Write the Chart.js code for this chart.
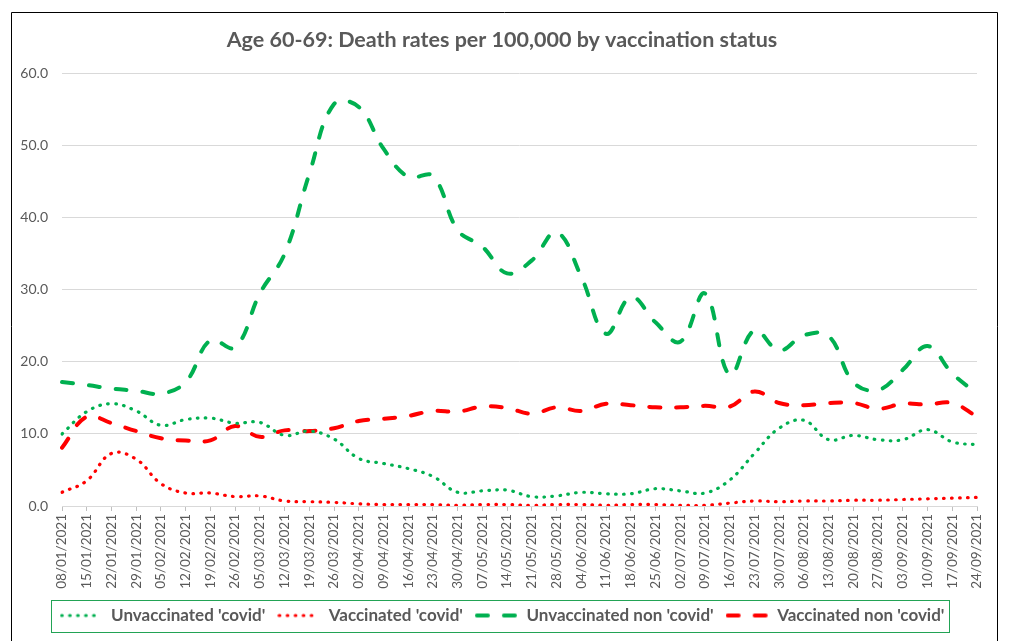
<!DOCTYPE html>
<html>
<head>
<meta charset="utf-8">
<script src="https://cdn.jsdelivr.net/npm/chart.js@4/dist/chart.umd.min.js"></script>
<style>
  html, body { margin: 0; padding: 0; background: #fff; }
  #wrap { width: 1012px; height: 641px; }
</style>
</head>
<body>
<div id="wrap"><canvas id="chart" width="1012" height="641"></canvas></div>
<script>
const weeks = ['08/01/2021', '15/01/2021', '22/01/2021', '29/01/2021', '05/02/2021', '12/02/2021', '19/02/2021', '26/02/2021',
  '05/03/2021', '12/03/2021', '19/03/2021', '26/03/2021', '02/04/2021', '09/04/2021', '16/04/2021', '23/04/2021', '30/04/2021',
  '07/05/2021', '14/05/2021', '21/05/2021', '28/05/2021', '04/06/2021', '11/06/2021', '18/06/2021', '25/06/2021', '02/07/2021',
  '09/07/2021', '16/07/2021', '23/07/2021', '30/07/2021', '06/08/2021', '13/08/2021', '20/08/2021', '27/08/2021', '03/09/2021',
  '10/09/2021', '17/09/2021', '24/09/2021'];

const unvaxCovid = [10.0, 13.1, 14.2, 13.2, 11.2, 12.0, 12.2, 11.5, 11.6, 9.8, 10.4, 9.3,
  6.6, 5.9, 5.2, 4.1, 1.9, 2.1, 2.2, 1.3, 1.4, 1.9, 1.7, 1.7, 2.4,
  2.1, 1.8, 3.6, 7.3, 10.8, 11.9, 9.2, 9.8, 9.2, 9.2, 10.6, 8.9, 8.5];
const vaxCovid = [1.9, 3.5, 7.3, 6.5, 3.1, 1.8, 1.8, 1.3, 1.4, 0.7, 0.6, 0.5,
  0.3, 0.2, 0.2, 0.2, 0.1, 0.2, 0.2, 0.1, 0.2, 0.2, 0.1, 0.2, 0.2,
  0.1, 0.1, 0.4, 0.7, 0.6, 0.7, 0.7, 0.8, 0.8, 0.9, 1.0, 1.1, 1.2];
const unvaxNonCovid = [17.2, 16.8, 16.3, 16.0, 15.6, 17.2, 23.0, 22.0, 29.5, 35.0, 46.1, 55.8,
  55.4, 49.6, 45.7, 45.8, 38.3, 36.0, 32.3, 34.1, 38.0, 31.8, 23.9, 29.0, 25.5,
  22.8, 29.5, 18.2, 24.4, 21.6, 23.7, 23.6, 17.2, 16.1, 18.9, 22.2, 18.4, 15.6];
const vaxNonCovid = [8.1, 12.4, 11.5, 10.4, 9.4, 9.1, 9.1, 11.1, 9.6, 10.5, 10.4, 10.8,
  11.8, 12.1, 12.5, 13.2, 13.1, 13.8, 13.6, 12.8, 13.7, 13.2, 14.2, 14.0, 13.7,
  13.7, 13.9, 13.8, 15.9, 14.3, 14.0, 14.3, 14.3, 13.5, 14.2, 14.1, 14.3, 12.4];

const GREEN = '#00B050';
const RED = '#FF0000';
const TEXT = '#595959';
const FONT = 'Lato, "Open Sans", sans-serif';

const DOTS = [0.6, 7.4];
const DASH = [11, 16];

// little line samples for the legend
function sample(color, dash, width) {
  const c = document.createElement('canvas');
  c.width = 43; c.height = 8;
  const g = c.getContext('2d');
  g.strokeStyle = color;
  g.lineWidth = width;
  g.lineCap = 'round';
  g.setLineDash(dash);
  g.beginPath();
  g.moveTo(2, 4);
  g.lineTo(42, 4);
  g.stroke();
  return c;
}

function series(label, data, color, dash, width) {
  return {
    label: label,
    data: data,
    borderColor: color,
    backgroundColor: color,
    borderWidth: width,
    borderDash: dash,
    borderCapStyle: 'round',
    pointRadius: 0,
    tension: 0.4,
    fill: false,
    sampleImg: sample(color, dash, width)
  };
}

const frame = {
  id: 'frame',
  afterDraw(chart) {
    const ctx = chart.ctx;
    ctx.save();
    ctx.strokeStyle = '#000';
    ctx.lineWidth = 1;
    ctx.beginPath();
    ctx.moveTo(11.5, 641);
    ctx.lineTo(11.5, 12.5);
    ctx.lineTo(997.5, 12.5);
    ctx.lineTo(997.5, 641);
    ctx.stroke();
    const boxes = chart.legend.legendHitBoxes;
    if (boxes && boxes.length) {
      const left = Math.min(...boxes.map(b => b.left)) - 9;
      const right = Math.max(...boxes.map(b => b.left + b.width)) + 4;
      const mid = boxes[0].top + boxes[0].height / 2;
      ctx.strokeStyle = '#22A355';
      ctx.strokeRect(Math.round(left) + 0.5, Math.round(mid - 16) + 0.5, Math.round(right - left), 32);
    }
    ctx.restore();
  }
};

new Chart(document.getElementById('chart'), {
  type: 'line',
  data: {
    labels: weeks,
    datasets: [
      series("Unvaccinated 'covid'", unvaxCovid, GREEN, DOTS, 3.2),
      series("Vaccinated 'covid'", vaxCovid, RED, DOTS, 3.2),
      series("Unvaccinated non 'covid'", unvaxNonCovid, GREEN, DASH, 4),
      series("Vaccinated non 'covid'", vaxNonCovid, RED, DASH, 4)
    ]
  },
  options: {
    responsive: false,
    animation: false,
    devicePixelRatio: 1,
    layout: { padding: { top: 12, left: 19, right: 27, bottom: 7 } },
    plugins: {
      title: {
        display: true,
        text: 'Age 60-69: Death rates per 100,000 by vaccination status',
        color: TEXT,
        font: { family: FONT, size: 21.5, weight: 'bold' },
        padding: { top: 15, bottom: 21 }
      },
      legend: {
        position: 'bottom',
        labels: {
          color: TEXT,
          font: { family: FONT, size: 17, weight: 'bold' },
          usePointStyle: true,
          pointStyleWidth: 43,
          padding: 12,
          generateLabels(chart) {
            const items = Chart.defaults.plugins.legend.labels.generateLabels(chart);
            items.forEach(it => { it.pointStyle = chart.data.datasets[it.datasetIndex].sampleImg; });
            return items;
          }
        }
      },
      tooltip: { enabled: false }
    },
    scales: {
      x: {
        grid: { display: true, drawOnChartArea: false, drawTicks: true, tickLength: 5, color: '#BFBFBF' },
        border: { display: true, color: '#D9D9D9' },
        ticks: {
          color: TEXT,
          font: { family: FONT, size: 13.5 },
          minRotation: 90,
          maxRotation: 90,
          autoSkip: false,
          padding: 3
        },
        afterFit(scale) { scale.height = 89; }
      },
      y: {
        min: 0,
        max: 60,
        grid: { color: '#D9D9D9', drawTicks: false },
        border: { display: false },
        ticks: {
          stepSize: 10,
          color: TEXT,
          font: { family: FONT, size: 14 },
          padding: 14,
          callback: v => v.toFixed(1)
        },
        afterFit(scale) { scale.width = 43; }
      },
      // empty spacer on the right so the plot ends where the reference's does
      spacer: {
        type: 'linear',
        position: 'right',
        display: true,
        grid: { display: false },
        border: { display: false },
        ticks: { display: false },
        afterFit(scale) { scale.width = 8; }
      }
    }
  },
  plugins: [frame]
});
</script>
</body>
</html>
